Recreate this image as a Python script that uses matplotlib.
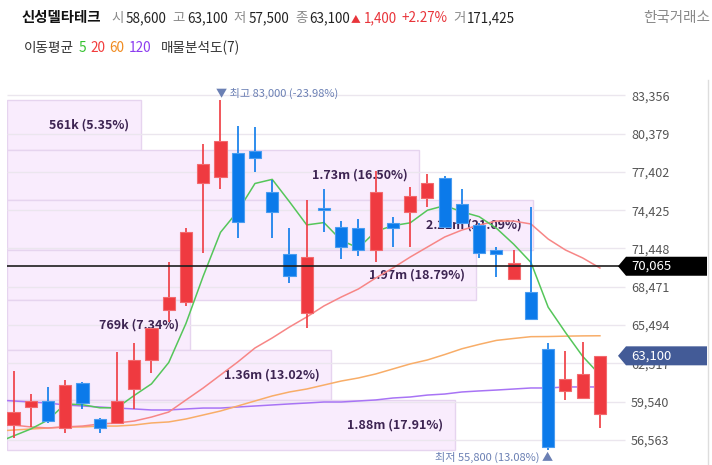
import matplotlib
matplotlib.use('Agg')
import matplotlib.pyplot as plt
import numpy as np
from matplotlib.patches import Polygon
from matplotlib.transforms import IdentityTransform

plt.rcParams['font.family'] = ['Noto Sans CJK KR', 'DejaVu Sans']

# daily candles, 35 sessions
opens  = [57700, 59100, 59600, 57500, 61000, 58200, 57900, 60500, 62800, 66700,
          67300, 76500, 77000, 78900, 79000, 75800, 71000, 66400, 74600, 73100,
          73000, 71300, 73400, 74300, 75400, 76900, 74900, 73300, 71300, 69100,
          68100, 63600, 60400, 59800, 58600]
highs  = [61900, 60100, 60700, 61200, 61100, 58300, 63400, 64100, 65300, 70400,
          73000, 79600, 83000, 81000, 80900, 76800, 73000, 75200, 76100, 73600,
          73700, 77500, 73900, 76200, 77200, 77100, 76100, 73400, 71600, 71300,
          74700, 64100, 63500, 64200, 63100]
lows   = [56700, 57600, 57900, 57100, 59000, 57100, 57800, 59000, 61800, 65700,
          67000, 71100, 76100, 72300, 77400, 72300, 68800, 65300, 72700, 70600,
          70900, 70400, 71600, 71600, 74700, 73100, 73400, 70700, 69200, 69100,
          66000, 55800, 59700, 59800, 57500]
closes = [58700, 59600, 58000, 60800, 59400, 57500, 59600, 62800, 65300, 67700,
          72700, 78000, 79800, 73500, 78500, 74300, 69300, 70800, 74400, 71600,
          71300, 75800, 73000, 75500, 76500, 73100, 73400, 71100, 71000, 70300,
          66000, 56000, 61300, 61700, 63100]

# moving averages
ma5   = [56870, 57410, 58110, 59360, 59300, 59060, 59060, 60020, 60920, 62580,
         65620, 69300, 72700, 74340, 76500, 76820, 75080, 73280, 73460, 72080,
         71480, 72780, 73220, 73440, 74420, 74780, 74300, 73920, 73020, 71780,
         70360, 66880, 64920, 63060, 61620]
ma20  = [57720, 57570, 57490, 57570, 57640, 57800, 57880, 58030, 58340, 58730,
         59670, 60600, 61610, 62620, 63710, 64490, 65340, 66120, 66980, 67670,
         68300, 69150, 69930, 70780, 71560, 72340, 72880, 73270, 73580, 73580,
         73350, 72180, 71330, 70710, 69930]
ma60  = [57330, 57410, 57490, 57570, 57570, 57640, 57640, 57720, 57880, 57960,
         58190, 58500, 58810, 59200, 59590, 59980, 60290, 60520, 60830, 61140,
         61380, 61690, 62080, 62470, 62780, 63200, 63650, 63990, 64300, 64450,
         64590, 64600, 64630, 64650, 64660]
ma120 = [59590, 59510, 59430, 59280, 59200, 59120, 59040, 58970, 58890, 58890,
         58970, 59040, 59040, 59120, 59200, 59280, 59360, 59430, 59510, 59510,
         59590, 59670, 59820, 59900, 60050, 60130, 60290, 60370, 60440, 60520,
         60600, 60600, 60680, 60680, 60680]

# volume profile (7 bands, top -> bottom)
band_vol = [561e3, 1.73e6, 2.21e6, 1.97e6, 769e3, 1.36e6, 1.88e6]
band_txt = ['561k (5.35%)', '1.73m (16.50%)', '2.21m (21.09%)', '1.97m (18.79%)',
            '769k (7.34%)', '1.36m (13.02%)', '1.88m (17.91%)']

price_ticks = [56563, 59540, 62517, 65494, 68471, 71448, 74425, 77402, 80379, 83356]
ref_price = 70065

RED = '#ef3a40'
BLUE = '#0b7aea'

W, H = 712, 465
fig = plt.figure(figsize=(W / 100, H / 100), dpi=100)
ax = fig.add_axes([7 / W, (H - 453) / H, 615 / W, (453 - 85) / H])
ax.set_ylim(55545, 84157)
ax.set_xlim(-0.377, 35.28)
for s in ax.spines.values():
    s.set_visible(False)
ax.set_xticks([])

n = len(closes)
x = np.arange(n)
o = np.array(opens); c = np.array(closes)
hi = np.array(highs); lo = np.array(lows)
up = c >= o
cols = np.where(up, RED, BLUE)
edges = np.where(up, '#f26a6e', '#4a9cf0')

# volume profile bands
bnd = np.linspace(min(lows), max(highs), 8)
step = bnd[1] - bnd[0]
vmax = max(band_vol)
bw = np.array(band_vol) / vmax * 30.5
x0 = ax.get_xlim()[0]
for k in range(7):
    bot = bnd[6 - k]
    ax.bar(x0, step, width=bw[k], bottom=bot, align='edge', color='#f9ecfd',
           edgecolor='#e6d4ef', linewidth=1, zorder=1)
    ax.text(x0 + bw[k] - 0.65, bot + step / 2, band_txt[k], ha='right', va='center',
            fontsize=9, color='#3d2452', fontweight='bold', zorder=2)

# grid
ax.hlines(price_ticks, x0, 35.45, colors='#ebe6ee', linewidth=1, zorder=1.5, clip_on=False)

ax.yaxis.tick_right()
ax.set_yticks(price_ticks)
ax.set_yticklabels([f'{v:,}' for v in price_ticks])
ax.tick_params(axis='y', length=0, pad=6.5, labelsize=9, labelcolor='#555555')

# moving averages (clipped at the left edge like the source)
xl = np.r_[x0, x]
for vals, col in [(ma120, '#a874f5'), (ma60, '#f8ad68'), (ma20, '#f78686'), (ma5, '#55c65a')]:
    v = np.array(vals, dtype=float)
    v0 = v[0] - (v[1] - v[0]) * (-x0)
    ax.plot(xl, np.r_[v0, v], color=col, lw=1.1, zorder=3)

# candles
ax.vlines(x, lo, hi, colors=cols, linewidth=1.2, zorder=4)
body = np.maximum(np.abs(c - o), 90)
ax.bar(x, body, bottom=np.minimum(o, c), width=0.7, color=cols, edgecolor=edges,
       linewidth=0.8, zorder=5)

ax.axhline(ref_price, color='#1e1e1e', lw=1.2, zorder=6)

# high / low markers
ih = int(np.argmax(hi)); il = int(np.argmin(lo))
last = closes[-1]
ax.annotate(f'▼ 최고 {hi[ih]:,} ({(last - hi[ih]) / hi[ih] * 100:.2f}%)', xy=(ih, hi[ih]),
            xytext=(-4, 1), textcoords='offset pixels', ha='left', va='bottom',
            fontsize=8, color='#6b80b4', annotation_clip=False)
ax.annotate(f'최저 {lo[il]:,} ({(last - lo[il]) / lo[il] * 100:.2f}%) ▲', xy=(il, lo[il]),
            xytext=(5, -2), textcoords='offset pixels', ha='right', va='top',
            fontsize=8, color='#6b80b4', annotation_clip=False)

# price tags on the right
def price_tag(price, fc):
    yp = ax.transData.transform((0, price))[1]
    h = 9.5
    pts = [(618, yp), (626, yp + h), (707, yp + h), (707, yp - h), (626, yp - h)]
    poly = Polygon(pts, closed=True, transform=IdentityTransform(), fc=fc, ec='none',
                   zorder=10, clip_on=False)
    ax.add_artist(poly)
    ax.text(631, yp, f'{price:,}', transform=IdentityTransform(), ha='left', va='center',
            fontsize=9.5, color='white', zorder=11, clip_on=False)

price_tag(ref_price, '#000000')
price_tag(last, '#435b97')

fig.add_artist(plt.Line2D([708, 708], [0, H - 80], transform=IdentityTransform(),
                          color='#dddddd', lw=1))

# header
renderer = fig.canvas.get_renderer()

def chain(pieces, xs, ybase):
    xp = xs
    for txt, col, size, wt, gap in pieces:
        t = fig.text(xp, ybase, txt, transform=IdentityTransform(), color=col,
                     fontsize=size, fontweight=wt, va='baseline', ha='left')
        xp = t.get_window_extent(renderer).x1 + gap

GR, DK = '#8a8a8a', '#222222'
chg = closes[-1] - closes[-2]
pct = chg / closes[-2] * 100
fs = 9.7
chain([('신성델타테크', '#111111', 10.4, 'bold', 10),
       ('시', GR, fs, 'normal', 2), (f'{opens[-1]:,}', DK, fs, 'normal', 6),
       ('고', GR, fs, 'normal', 2), (f'{highs[-1]:,}', DK, fs, 'normal', 6),
       ('저', GR, fs, 'normal', 2), (f'{lows[-1]:,}', DK, fs, 'normal', 6),
       ('종', GR, fs, 'normal', 2), (f'{closes[-1]:,}', DK, fs, 'normal', 1),
       ('▲', '#e8343a', 7, 'normal', 3), (f'{chg:,}', '#e8343a', fs, 'normal', 4),
       (f'+{pct:.2f}%', '#e8343a', fs, 'normal', 6),
       ('거', GR, fs, 'normal', 2), ('171,425', DK, fs, 'normal', 0)],
      22, H - 22)

chain([('이동평균', '#333333', 9.8, 'normal', 5),
       ('5', '#35c22f', 9.8, 'normal', 4), ('20', '#f23c3c', 9.8, 'normal', 4),
       ('60', '#f08a1e', 9.8, 'normal', 4), ('120', '#8c3cf0', 9.8, 'normal', 10),
       ('매물분석도(7)', '#333333', 9.8, 'normal', 0)],
      24, H - 52)

fig.text(643, H - 22, '한국거래소', transform=IdentityTransform(), color='#8a8a8a',
         fontsize=10.5, va='baseline')

fig.savefig('out.png', dpi=100)
